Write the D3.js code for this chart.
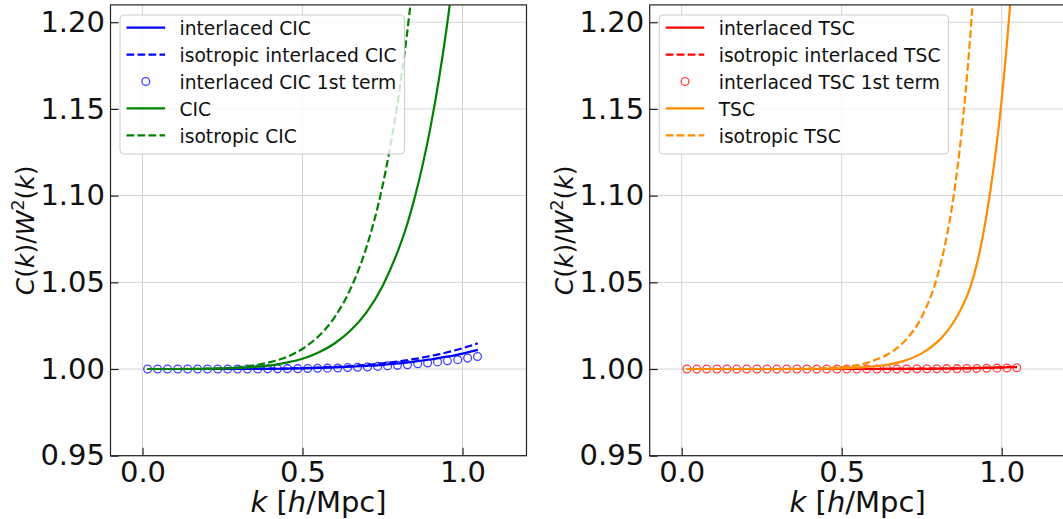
<!DOCTYPE html>
<html><head><meta charset="utf-8">
<script src="https://cdn.jsdelivr.net/npm/d3@7/dist/d3.min.js"></script>
<style>html,body{margin:0;padding:0;background:#fff;overflow:hidden}svg{display:block}</style>
</head><body>
<svg id="c" width="1063" height="519"></svg>
<script>
// ---------- data ----------
const kLine = [0.016, 0.1, 0.2, 0.3, 0.4, 0.45, 0.5, 0.55, 0.6, 0.65, 0.7, 0.75, 0.8, 0.825, 0.85, 0.875, 0.9, 0.925, 0.95, 0.975, 1.0, 1.025, 1.048];
const kPts = [0.016, 0.047, 0.078, 0.110, 0.141, 0.172, 0.203, 0.235, 0.266, 0.297, 0.328, 0.360, 0.391, 0.422, 0.453, 0.485, 0.516, 0.547, 0.578, 0.610, 0.641, 0.672, 0.703, 0.735, 0.766, 0.797, 0.828, 0.860, 0.891, 0.922, 0.953, 0.985, 1.016, 1.047];

// CIC panel
const cicInterlaced    = [1.0000, 1.0000, 1.0000, 1.0000, 1.0001, 1.0002, 1.0004, 1.0006, 1.0009, 1.0013, 1.0018, 1.0024, 1.0033, 1.0037, 1.0043, 1.0049, 1.0055, 1.0063, 1.0071, 1.0079, 1.0089, 1.0100, 1.0110];
const cicIsoInterlaced = [1.0000, 1.0000, 1.0000, 1.0001, 1.0002, 1.0003, 1.0005, 1.0008, 1.0012, 1.0017, 1.0024, 1.0033, 1.0044, 1.0050, 1.0058, 1.0066, 1.0075, 1.0084, 1.0095, 1.0107, 1.0120, 1.0134, 1.0148];
const cicFirstTerm     = [1.0000, 1.0000, 1.0000, 1.0000, 1.0000, 1.0000, 1.0000, 1.0000, 1.0000, 1.0000, 1.0000, 1.0000, 1.0001, 1.0001, 1.0002, 1.0002, 1.0003, 1.0004, 1.0005, 1.0006, 1.0008, 1.0010, 1.0012, 1.0015, 1.0018, 1.0021, 1.0025, 1.0030, 1.0035, 1.0041, 1.0047, 1.0054, 1.0063, 1.0072];
const cic              = [1.0000, 1.0000, 1.0001, 1.0006, 1.0021, 1.0037, 1.0059, 1.0095, 1.0147, 1.0222, 1.0327, 1.0478, 1.0690, 1.0822, 1.0984, 1.1173, 1.1395, 1.1656, 1.1961, 1.2324, 1.2748, 1.3245, 1.3784];
const cicIso           = [1.0000, 1.0000, 1.0002, 1.0010, 1.0040, 1.0069, 1.0117, 1.0189, 1.0298, 1.0462, 1.0703, 1.1055, 1.1571, 1.1909, 1.2320, 1.2815, 1.3409, 1.4100, 1.4980, 1.6000, 1.7260, 1.8700, 2.0300];

// TSC panel
const tscInterlaced    = [1.0000, 1.0000, 1.0000, 1.0000, 1.0000, 1.0000, 1.0000, 1.0000, 1.0000, 1.0001, 1.0001, 1.0001, 1.0002, 1.0003, 1.0003, 1.0004, 1.0004, 1.0005, 1.0006, 1.0007, 1.0008, 1.0010, 1.0011];
const tscIsoInterlaced = [1.0000, 1.0000, 1.0000, 1.0000, 1.0000, 1.0000, 1.0000, 1.0000, 1.0000, 1.0001, 1.0001, 1.0002, 1.0003, 1.0003, 1.0004, 1.0005, 1.0006, 1.0007, 1.0008, 1.0009, 1.0011, 1.0012, 1.0014];
const tscFirstTerm     = [1.0000, 1.0000, 1.0000, 1.0000, 1.0000, 1.0000, 1.0000, 1.0000, 1.0000, 1.0000, 1.0000, 1.0000, 1.0000, 1.0000, 1.0000, 1.0000, 1.0000, 1.0000, 1.0000, 1.0000, 1.0000, 1.0000, 1.0000, 1.0001, 1.0001, 1.0001, 1.0002, 1.0002, 1.0003, 1.0003, 1.0004, 1.0005, 1.0006, 1.0007];
const tsc              = [1.0000, 1.0000, 1.0000, 1.0000, 1.0001, 1.0002, 1.0004, 1.0008, 1.0015, 1.0027, 1.0050, 1.0090, 1.0158, 1.0207, 1.0271, 1.0354, 1.0462, 1.0625, 1.0859, 1.1163, 1.1554, 1.2070, 1.2698];
const tscIso           = [1.0000, 1.0000, 1.0000, 1.0000, 1.0002, 1.0005, 1.0011, 1.0022, 1.0049, 1.0092, 1.0168, 1.0300, 1.0542, 1.0735, 1.1000, 1.1372, 1.1879, 1.2570, 1.3510, 1.4800, 1.6560, 1.9000, 2.2000];

const xTicks = [0.0, 0.5, 1.0];
const xTickLabels = ["0.0", "0.5", "1.0"];
const yTicks = [0.95, 1.00, 1.05, 1.10, 1.15, 1.20];
const yTickLabels = ["0.95", "1.00", "1.05", "1.10", "1.15", "1.20"];

const cicLabels = ["interlaced CIC", "isotropic interlaced CIC", "interlaced CIC 1st term", "CIC", "isotropic CIC"];
const tscLabels = ["interlaced TSC", "isotropic interlaced TSC", "interlaced TSC 1st term", "TSC", "isotropic TSC"];

// ---------- drawing ----------
const svg = d3.select('#c');
svg.append('rect').attr('width', 1063).attr('height', 519).attr('fill', '#fff');
const FONT = "'DejaVu Sans', sans-serif";
const DASH = "7.7,3.3";
const yTop = 4.9, yBot = 455.7;

const panels = [
  { x0: 110.5, x1: 526.5, labels: cicLabels,
    series: [
      { xs: kLine, ys: cicInterlaced, color: '#0000ff', dash: null, type: 'line' },
      { xs: kLine, ys: cicIsoInterlaced, color: '#0000ff', dash: DASH, type: 'line' },
      { xs: kPts, ys: cicFirstTerm, color: '#0000ff', type: 'circle' },
      { xs: kLine, ys: cic, color: '#008000', dash: null, type: 'line' },
      { xs: kLine, ys: cicIso, color: '#008000', dash: DASH, type: 'line' }
    ] },
  { x0: 649.7, x1: 1065.7, labels: tscLabels,
    series: [
      { xs: kLine, ys: tscInterlaced, color: '#ff0000', dash: null, type: 'line' },
      { xs: kLine, ys: tscIsoInterlaced, color: '#ff0000', dash: DASH, type: 'line' },
      { xs: kPts, ys: tscFirstTerm, color: '#ff0000', type: 'circle' },
      { xs: kLine, ys: tsc, color: '#ff8c00', dash: null, type: 'line' },
      { xs: kLine, ys: tscIso, color: '#ff8c00', dash: DASH, type: 'line' }
    ] }
];

panels.forEach((p, pi) => {
  const x = d3.scaleLinear().domain([-0.1, 1.2]).range([p.x0, p.x1]);
  const y = d3.scaleLinear().domain([0.95, 1.21]).range([yBot, yTop]);
  const g = svg.append('g');
  const clipId = 'clip' + pi;
  svg.append('clipPath').attr('id', clipId).append('rect')
    .attr('x', p.x0).attr('y', yTop).attr('width', p.x1 - p.x0).attr('height', yBot - yTop);

  // grid
  const grid = g.append('g');
  xTicks.forEach(t => grid.append('line').attr('x1', x(t)).attr('x2', x(t)).attr('y1', yTop).attr('y2', yBot)
    .attr('stroke', '#d4d4d4').attr('stroke-width', 1));
  yTicks.forEach(t => grid.append('line').attr('x1', p.x0).attr('x2', p.x1).attr('y1', y(t)).attr('y2', y(t))
    .attr('stroke', '#d4d4d4').attr('stroke-width', 1));

  // series
  const sg = g.append('g').attr('clip-path', `url(#${clipId})`);
  p.series.forEach(s => {
    const pts = s.xs.map((k, i) => [k, s.ys[i]]);
    if (s.type === 'line') {
      const line = d3.line().x(d => x(d[0])).y(d => y(d[1])).curve(d3.curveMonotoneX);
      sg.append('path').attr('d', line(pts)).attr('fill', 'none')
        .attr('stroke', s.color).attr('stroke-width', 2.2)
        .attr('stroke-dasharray', s.dash).attr('stroke-linecap', 'butt');
    } else {
      sg.selectAll(null).data(pts).enter().append('circle')
        .attr('cx', d => x(d[0])).attr('cy', d => y(d[1])).attr('r', 3.9)
        .attr('fill', 'none').attr('stroke', s.color).attr('stroke-opacity', 0.75).attr('stroke-width', 1.3);
    }
  });

  // axes (inward ticks)
  const ax = g.append('g').attr('transform', `translate(0,${yBot})`)
    .call(d3.axisBottom(x).tickValues(xTicks).tickFormat((d, i) => xTickLabels[i]).tickSizeInner(-8).tickSizeOuter(0).tickPadding(6));
  const ay = g.append('g').attr('transform', `translate(${p.x0},0)`)
    .call(d3.axisLeft(y).tickValues(yTicks).tickFormat((d, i) => yTickLabels[i]).tickSizeInner(-8).tickSizeOuter(0).tickPadding(5.5));
  [ax, ay].forEach(a => {
    a.select('.domain').remove();
    a.selectAll('.tick line').attr('stroke', '#222').attr('stroke-width', 1.2);
    a.selectAll('.tick text').attr('font-family', FONT).attr('font-size', 29).attr('fill', '#111');
  });

  // spines
  g.append('rect').attr('x', p.x0).attr('y', yTop).attr('width', p.x1 - p.x0).attr('height', yBot - yTop)
    .attr('fill', 'none').attr('stroke', '#222').attr('stroke-width', 1.2);

  // legend
  const lg = g.append('g');
  const lx = p.x0 + 9.5, ly = yTop + 10.1;
  const fs = 18.7;
  const box = lg.append('rect').attr('x', lx).attr('y', ly).attr('height', 139).attr('rx', 4).attr('ry', 4)
    .attr('fill', '#fff').attr('fill-opacity', 0.8).attr('stroke', '#cccccc').attr('stroke-width', 1);
  let maxW = 0;
  p.series.forEach((s, i) => {
    const cy = ly + 12.7 + i * 26.9;
    const hx0 = lx + 6.5, hx1 = hx0 + 38.6;
    if (s.type === 'line') {
      lg.append('line').attr('x1', hx0).attr('x2', hx1).attr('y1', cy).attr('y2', cy)
        .attr('stroke', s.color).attr('stroke-width', 2.2).attr('stroke-dasharray', s.dash);
    } else {
      lg.append('circle').attr('cx', (hx0 + hx1) / 2).attr('cy', cy).attr('r', 3.9)
        .attr('fill', 'none').attr('stroke', s.color).attr('stroke-opacity', 0.75).attr('stroke-width', 1.3);
    }
    const t = lg.append('text').attr('x', lx + 59.5).attr('y', cy + 7.6)
      .attr('font-family', FONT).attr('font-size', fs).attr('fill', '#111').text(p.labels[i]);
    maxW = Math.max(maxW, t.node().getComputedTextLength());
  });
  box.attr('width', 59.5 + maxW + 8);

  // axis labels
  const cx = (p.x0 + p.x1) / 2;
  const xl = g.append('text').attr('x', cx).attr('y', 511.5).attr('text-anchor', 'middle')
    .attr('font-family', FONT).attr('font-size', 29).attr('fill', '#111');
  xl.append('tspan').attr('font-style', 'italic').text('k');
  xl.append('tspan').text(' [');
  xl.append('tspan').attr('font-style', 'italic').text('h');
  xl.append('tspan').text('/Mpc]');

  const ylx = p.x0 - 77, yly = (yTop + yBot) / 2;
  const yl = g.append('text').attr('transform', `translate(${ylx},${yly}) rotate(-90)`)
    .attr('text-anchor', 'middle').attr('font-family', FONT).attr('font-size', 25).attr('fill', '#111');
  yl.append('tspan').attr('font-style', 'italic').text('C');
  yl.append('tspan').text('(');
  yl.append('tspan').attr('font-style', 'italic').text('k');
  yl.append('tspan').text(')/');
  yl.append('tspan').attr('font-style', 'italic').text('W');
  yl.append('tspan').attr('font-size', 17.5).attr('dy', -9.5).text('2');
  yl.append('tspan').attr('dy', 9.5).text('(');
  yl.append('tspan').attr('font-style', 'italic').text('k');
  yl.append('tspan').text(')');
});
</script>
</body></html>
